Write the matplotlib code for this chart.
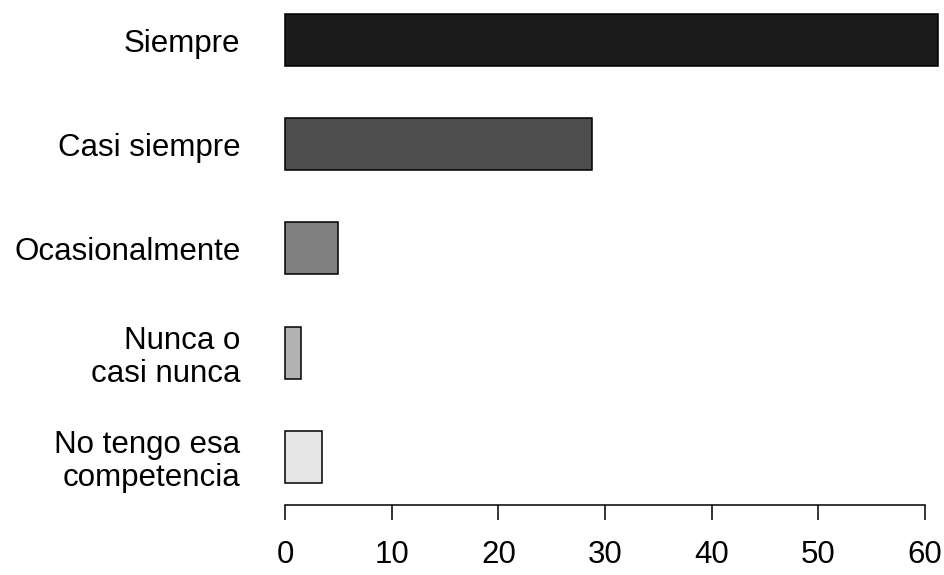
import numpy as np
import matplotlib.pyplot as plt

categorias = ['Siempre', 'Casi siempre', 'Ocasionalmente', 'Nunca o\ncasi nunca', 'No tengo esa\ncompetencia']
porcentajes = [61.2, 28.8, 5.0, 1.5, 3.5]
colores = ['#1c1c1c', '#4d4d4d', '#808080', '#b3b3b3', '#e6e6e6']
ticks_x = [0, 10, 20, 30, 40, 50, 60]

plt.rcParams['font.family'] = ['Liberation Sans', 'DejaVu Sans']

fig = plt.figure(figsize=(9.44, 5.75), dpi=100)
ax = fig.add_axes([285 / 944, 1 - 505 / 575, 640 / 944, 505 / 575])

y = np.arange(len(categorias))
ax.barh(y, porcentajes, height=0.5, color=colores, edgecolor='black',
        linewidth=1.1, clip_on=False)

ax.set_xlim(0, 60)
ax.set_ylim(4.466, -0.389)

ax.set_xticks(ticks_x)
ax.set_xticklabels([str(t) for t in ticks_x], fontsize=22.5)
ax.set_yticks(y)
ax.set_yticklabels(categorias, fontsize=22.5, multialignment='right')
for lbl in ax.get_yticklabels():
    lbl.set_linespacing(1.15)

ax.tick_params(axis='y', length=0, pad=32)
ax.tick_params(axis='x', length=11, width=1.1, pad=14)

for s in ['left', 'right', 'top']:
    ax.spines[s].set_visible(False)
ax.spines['bottom'].set_linewidth(1.1)
ax.spines['bottom'].set_bounds(0, 60)

fig.savefig('out.png', dpi=100)
